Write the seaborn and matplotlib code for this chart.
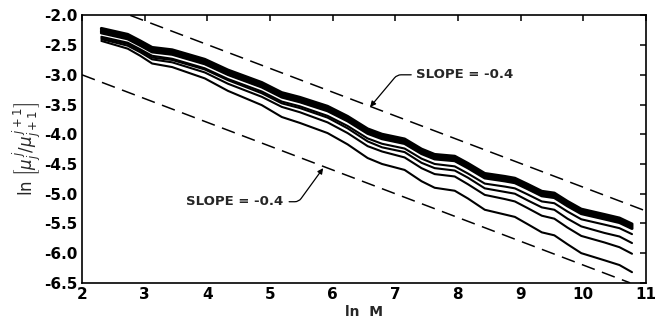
import numpy as np
import pandas as pd
import matplotlib
matplotlib.use("Agg")
import matplotlib.pyplot as plt
import seaborn as sns

# ---- data ----
ln_m = [2.31, 2.73, 2.93, 3.12, 3.44, 3.96, 4.33, 4.87, 5.19, 5.48, 5.92, 6.24, 6.56, 6.79, 7.15,
        7.42, 7.63, 7.95, 8.16, 8.43, 8.75, 8.91, 9.11, 9.34, 9.54, 9.75, 9.97, 10.34, 10.58, 10.78]

c1 = [-2.22, -2.32, -2.43, -2.54, -2.58, -2.74, -2.92, -3.13, -3.30, -3.38, -3.53, -3.70, -3.91, -4.00, -4.08,
      -4.25, -4.34, -4.37, -4.49, -4.66, -4.71, -4.74, -4.84, -4.96, -4.99, -5.13, -5.26, -5.35, -5.41, -5.51]
c2 = [-2.245, -2.345, -2.455, -2.565, -2.605, -2.765, -2.945, -3.155, -3.325, -3.405, -3.555, -3.725, -3.935, -4.025, -4.105,
      -4.275, -4.365, -4.395, -4.515, -4.685, -4.735, -4.765, -4.865, -4.985, -5.015, -5.155, -5.285, -5.375, -5.435, -5.535]
c3 = [-2.27, -2.37, -2.48, -2.59, -2.63, -2.79, -2.97, -3.18, -3.35, -3.43, -3.58, -3.75, -3.96, -4.05, -4.13,
      -4.30, -4.39, -4.42, -4.54, -4.71, -4.76, -4.79, -4.89, -5.01, -5.04, -5.18, -5.31, -5.40, -5.46, -5.56]
c4 = [-2.295, -2.395, -2.505, -2.615, -2.655, -2.815, -2.995, -3.205, -3.375, -3.455, -3.605, -3.775, -3.985, -4.075, -4.155,
      -4.325, -4.415, -4.445, -4.565, -4.735, -4.785, -4.815, -4.915, -5.035, -5.065, -5.205, -5.335, -5.425, -5.485, -5.585]
c6 = [-2.36, -2.46, -2.57, -2.68, -2.73, -2.89, -3.07, -3.28, -3.45, -3.53, -3.69, -3.86, -4.07, -4.16, -4.24,
      -4.41, -4.50, -4.54, -4.66, -4.83, -4.88, -4.91, -5.01, -5.13, -5.16, -5.30, -5.43, -5.52, -5.58, -5.68]
c7 = [-2.38, -2.48, -2.59, -2.71, -2.75, -2.91, -3.09, -3.31, -3.48, -3.56, -3.72, -3.90, -4.12, -4.22, -4.30,
      -4.48, -4.57, -4.61, -4.73, -4.91, -4.97, -5.00, -5.11, -5.23, -5.27, -5.42, -5.55, -5.66, -5.72, -5.83]
c8 = [-2.40, -2.51, -2.62, -2.74, -2.79, -2.96, -3.15, -3.37, -3.54, -3.63, -3.80, -3.98, -4.20, -4.29, -4.39,
      -4.57, -4.67, -4.71, -4.84, -5.02, -5.09, -5.13, -5.24, -5.37, -5.42, -5.57, -5.71, -5.82, -5.90, -6.01]
c9 = [-2.43, -2.56, -2.68, -2.81, -2.87, -3.06, -3.27, -3.51, -3.71, -3.81, -3.98, -4.17, -4.40, -4.50, -4.60,
      -4.79, -4.90, -4.95, -5.08, -5.27, -5.35, -5.39, -5.51, -5.65, -5.70, -5.85, -6.00, -6.12, -6.20, -6.32]

band_curves = {"c1": c1, "c2": c2, "c3": c3, "c4": c4}
line_curves = {"c6": c6, "c7": c7, "c8": c8, "c9": c9}

upper_dash_x = [2.77, 11.0]
upper_dash_y = [-2.0, -5.29]
lower_dash_x = [2.0, 10.75]
lower_dash_y = [-3.0, -6.5]

x_ticks = [2, 3, 4, 5, 6, 7, 8, 9, 10, 11]
x_ticklabels = ["2", "3", "4", "5", "6", "7", "8", "9", "10", "11"]
y_ticks = [-2.0, -2.5, -3.0, -3.5, -4.0, -4.5, -5.0, -5.5, -6.0, -6.5]
y_ticklabels = ["-2.0", "-2.5", "-3.0", "-3.5", "-4.0", "-4.5", "-5.0", "-5.5", "-6.0", "-6.5"]

slope_text = "SLOPE = -0.4"

# ---- build frames ----
def to_long(curves):
    rows = []
    for name, vals in curves.items():
        for xv, yv in zip(ln_m, vals):
            rows.append((name, xv, yv))
    return pd.DataFrame(rows, columns=["curve", "lnM", "val"])

band_df = to_long(band_curves)
line_df = to_long(line_curves)
dash_df = pd.DataFrame({
    "line": ["u"] * 2 + ["l"] * 2,
    "lnM": upper_dash_x + lower_dash_x,
    "val": upper_dash_y + lower_dash_y,
})

sns.set_theme(style="white")
plt.rcParams["font.family"] = ["DejaVu Sans"]

fig = plt.figure(figsize=(6.61, 3.20), dpi=100)
ax = fig.add_axes([0.124, 0.116, 0.853, 0.836])

sns.lineplot(data=band_df, x="lnM", y="val", units="curve", estimator=None,
             color="black", lw=2.2, ax=ax, sort=False)
sns.lineplot(data=line_df, x="lnM", y="val", units="curve", estimator=None,
             color="black", lw=1.5, ax=ax, sort=False)
sns.lineplot(data=dash_df, x="lnM", y="val", units="line", estimator=None,
             color="black", lw=1.1, ax=ax, sort=False, dashes=False)
for ln in ax.lines[-2:]:
    ln.set_dashes((9, 5))
for ln in ax.lines:
    ln.set_solid_joinstyle("round")
    ln.set_solid_capstyle("round")

ax.set_xlim(2, 11)
ax.set_ylim(-6.5, -2.0)
ax.set_xticks(x_ticks)
ax.set_xticklabels(x_ticklabels)
ax.set_yticks(y_ticks)
ax.set_yticklabels(y_ticklabels)

ax.tick_params(direction="in", length=4, width=1.1, top=True, right=True,
               labelsize=11, pad=3, colors="black")
for lab in ax.get_xticklabels() + ax.get_yticklabels():
    lab.set_fontweight("bold")
for sp in ax.spines.values():
    sp.set_visible(True)
    sp.set_color("black")
    sp.set_linewidth(1.2)

ax.set_xlabel("ln  M", fontsize=10, fontweight="bold", labelpad=2)
ax.set_ylabel(r"ln $\left[\mu_j^{\,j}/\mu_{j+1}^{\,j+1}\right]$", fontsize=12, labelpad=0)

ax.annotate(slope_text, xy=(6.60, -3.54), xytext=(7.33, -3.0),
            ha="left", va="center", fontsize=9.5, fontweight="bold",
            arrowprops=dict(arrowstyle="-|>", color="black", lw=0.9,
                            connectionstyle="angle,angleA=0,angleB=50,rad=4",
                            relpos=(0, 0.5), shrinkA=1, shrinkB=0, mutation_scale=8))
ax.annotate(slope_text, xy=(5.85, -4.57), xytext=(5.21, -5.135),
            ha="right", va="center", fontsize=9.5, fontweight="bold",
            arrowprops=dict(arrowstyle="-|>", color="black", lw=0.9,
                            connectionstyle="angle,angleA=0,angleB=54,rad=4",
                            relpos=(1, 0.5), shrinkA=2, shrinkB=0, mutation_scale=8))

fig.savefig("out.png", dpi=100)
